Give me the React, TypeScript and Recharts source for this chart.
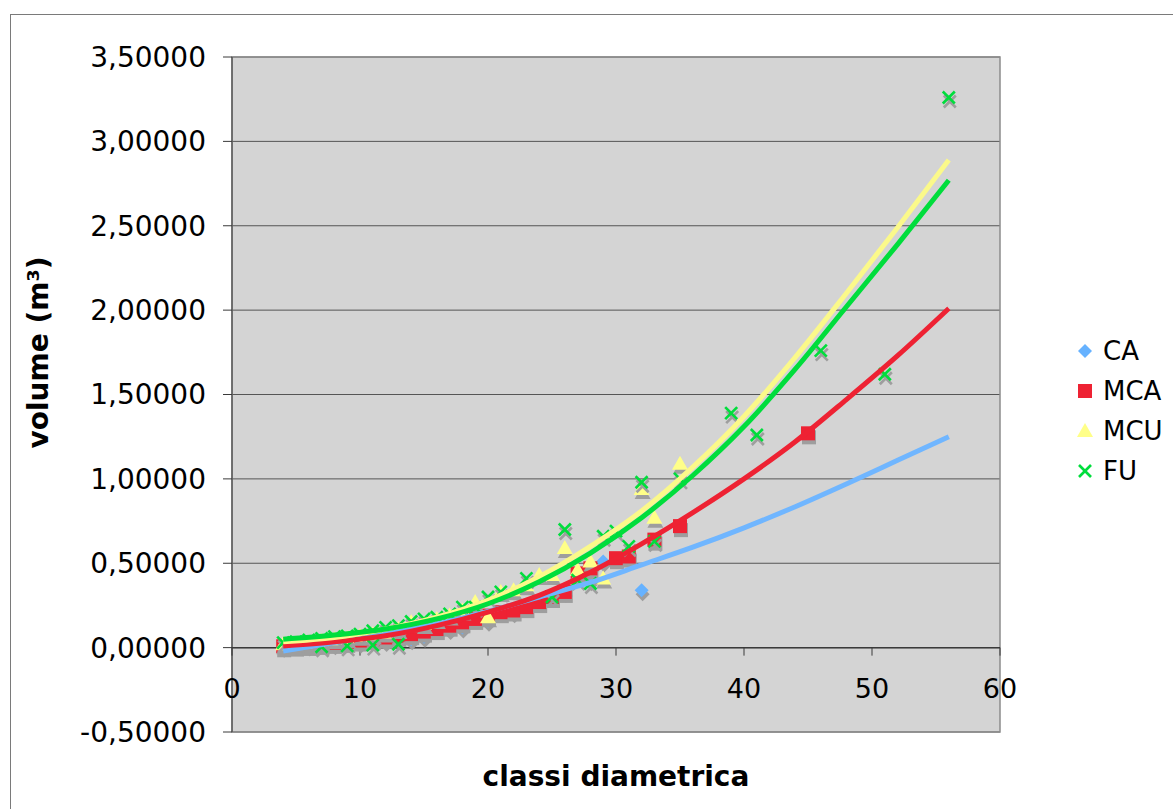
import React from 'react';
import {
  ComposedChart,
  Scatter,
  XAxis,
  YAxis,
  CartesianGrid,
  ReferenceLine,
  ReferenceDot,
  ReferenceArea,
  Legend,
} from 'recharts';

const FONT = '"DejaVu Sans", Verdana, sans-serif';

// Axis ticks
const xTicks = [0, 10, 20, 30, 40, 50, 60];
const yTicks = [-0.5, 0, 0.5, 1, 1.5, 2, 2.5, 3, 3.5];

// CA – observed volumes per diameter class
const caX = [4, 6, 8, 10, 12, 14, 15, 17, 18, 20, 22, 24, 26, 28, 29, 32];
const caY = [0.005, 0.012, 0.02, 0.03, 0.04, 0.05, 0.065, 0.11, 0.12, 0.16, 0.21, 0.27, 0.33, 0.4, 0.51, 0.34];

// MCA
const mcaX = [4, 5, 6, 7, 8, 9, 10, 11, 12, 13, 14, 15, 16, 17, 18, 19, 20, 21, 22, 23, 24, 25, 26, 27, 28, 30, 31, 33, 35, 45];
const mcaY = [0.008, 0.012, 0.016, 0.022, 0.028, 0.034, 0.042, 0.05, 0.06, 0.07, 0.08, 0.095, 0.11, 0.13, 0.15, 0.17, 0.19, 0.21, 0.22, 0.24, 0.27, 0.3, 0.33, 0.44, 0.47, 0.53, 0.54, 0.64, 0.72, 1.27];

// MCU
const mcuX = [4, 5, 6, 7, 8, 9, 10, 11, 12, 13, 14, 15, 16, 17, 18, 19, 20, 21, 22, 23, 24, 25, 26, 27, 28, 29, 32, 33, 35];
const mcuY = [0.02, 0.025, 0.03, 0.04, 0.05, 0.055, 0.07, 0.08, 0.09, 0.11, 0.15, 0.14, 0.17, 0.19, 0.22, 0.27, 0.18, 0.33, 0.34, 0.37, 0.43, 0.43, 0.59, 0.46, 0.51, 0.41, 0.94, 0.77, 1.09];

// FU
const fuX = [4, 5, 6, 7, 7, 8, 9, 9, 10, 11, 11, 12, 13, 13, 14, 15, 16, 17, 18, 19, 20, 21, 23, 25, 26, 27, 28, 29, 30, 31, 32, 33, 35, 39, 41, 46, 51, 56];
const fuY = [0.03, 0.035, 0.045, 0.055, 0.005, 0.065, 0.07, 0.01, 0.08, 0.1, 0.015, 0.12, 0.13, 0.02, 0.155, 0.17, 0.18, 0.2, 0.24, 0.24, 0.3, 0.33, 0.41, 0.3, 0.7, 0.4, 0.38, 0.66, 0.69, 0.6, 0.98, 0.63, 1.0, 1.39, 1.26, 1.76, 1.62, 3.26];

// Trend curves, sampled along the diameter range
const trendX = [4, 8, 12, 16, 20, 24, 28, 32, 36, 40, 44, 48, 52, 56];
const caTrend = [-0.02, 0.03, 0.08, 0.14, 0.215, 0.3, 0.386, 0.49, 0.595, 0.71, 0.835, 0.97, 1.11, 1.25];
const mcaTrend = [0.01, 0.035, 0.07, 0.13, 0.21, 0.31, 0.447, 0.615, 0.8, 1.0, 1.22, 1.47, 1.73, 2.01];
const mcuTrend = [0.035, 0.06, 0.11, 0.18, 0.28, 0.42, 0.6, 0.81, 1.07, 1.37, 1.72, 2.1, 2.49, 2.89];
const fuTrend = [0.05, 0.075, 0.11, 0.17, 0.26, 0.39, 0.56, 0.77, 1.02, 1.31, 1.65, 2.02, 2.39, 2.77];

type Kind = 'diamond' | 'square' | 'triangle' | 'cross';

const toPoints = (xs: number[], ys: number[]) => xs.map((x, i) => ({ x, y: ys[i] }));

const SERIES: { name: string; kind: Kind; color: string; line: string; pts: { x: number; y: number }[]; trend: { x: number; y: number }[] }[] = [
  { name: 'CA', kind: 'diamond', color: '#66b2ff', line: '#70b6ff', pts: toPoints(caX, caY), trend: toPoints(trendX, caTrend) },
  { name: 'MCA', kind: 'square', color: '#ee2233', line: '#ee2233', pts: toPoints(mcaX, mcaY), trend: toPoints(trendX, mcaTrend) },
  { name: 'MCU', kind: 'triangle', color: '#ffff88', line: '#fbf98a', pts: toPoints(mcuX, mcuY), trend: toPoints(trendX, mcuTrend) },
  { name: 'FU', kind: 'cross', color: '#00dd3c', line: '#00dd3c', pts: toPoints(fuX, fuY), trend: toPoints(trendX, fuTrend) },
];

const SHADOW = '#9e9e9e';

function glyph(kind: Kind, cx: number, cy: number, color: string, key?: string) {
  switch (kind) {
    case 'diamond':
      return <polygon key={key} points={`${cx},${cy - 7} ${cx + 7},${cy} ${cx},${cy + 7} ${cx - 7},${cy}`} fill={color} />;
    case 'square':
      return <rect key={key} x={cx - 7} y={cy - 7} width={14} height={14} fill={color} />;
    case 'triangle':
      return <polygon key={key} points={`${cx},${cy - 8} ${cx + 8},${cy + 6} ${cx - 8},${cy + 6}`} fill={color} />;
    default:
      return (
        <g key={key} stroke={color} strokeWidth={2.6}>
          <line x1={cx - 6} y1={cy - 6} x2={cx + 6} y2={cy + 6} />
          <line x1={cx - 6} y1={cy + 6} x2={cx + 6} y2={cy - 6} />
        </g>
      );
  }
}

const makeShape = (kind: Kind, color: string) => (props: any) => {
  const { cx, cy } = props;
  if (cx == null || cy == null) return <g />;
  return (
    <g>
      {glyph(kind, cx + 1, cy + 4, SHADOW, 's')}
      {glyph(kind, cx, cy, color, 'c')}
    </g>
  );
};

const fmt = (v: number) => v.toFixed(5).replace('.', ',');

const XTickMark = (label: string) => (props: any) => {
  const { cx, cy } = props;
  return (
    <g>
      <line x1={cx} y1={cy} x2={cx} y2={cy + 8} stroke="#3a3a3a" strokeWidth={1} />
      <text x={cx} y={cy + 41} textAnchor="middle" dominantBaseline="central" fontFamily={FONT} fontSize={27} fill="#000">
        {label}
      </text>
    </g>
  );
};

const YTitle = (props: any) => {
  const vb = props.viewBox || { x: 0, y: 0, width: 0, height: 0 };
  const cx = vb.x + 38;
  const cy = vb.y + vb.height / 2 - 42;
  return (
    <text
      x={cx}
      y={cy}
      transform={`rotate(-90 ${cx} ${cy})`}
      textAnchor="middle"
      dominantBaseline="central"
      fontFamily={FONT}
      fontWeight="bold"
      fontSize={28}
      fill="#000"
    >
      volume (m³)
    </text>
  );
};

const XTitle = (props: any) => {
  const vb = props.viewBox || { x: 0, y: 0, width: 0, height: 0 };
  return (
    <text x={vb.x + vb.width / 2} y={vb.y + 54} textAnchor="middle" fontFamily={FONT} fontWeight="bold" fontSize={28} fill="#000">
      classi diametrica
    </text>
  );
};

const LegendBox = () => (
  <div style={{ fontFamily: FONT, fontSize: 26, color: '#000' }}>
    {SERIES.map((s) => (
      <div key={s.name} style={{ height: 40, display: 'flex', alignItems: 'center' }}>
        <svg width={24} height={24} style={{ marginRight: 6 }}>
          {glyph(s.kind, 12, 12, s.color)}
        </svg>
        <span>{s.name}</span>
      </div>
    ))}
  </div>
);

export default function App() {
  return (
    <div style={{ position: 'absolute', left: 0, top: 0, width: 1173, height: 809, overflow: 'hidden', background: '#fff' }}>
      <div style={{ position: 'absolute', left: 10, top: 14, width: 1250, height: 900, border: '1px solid #7a7a7a' }} />
      <div style={{ position: 'absolute', left: 0, top: 0 }}>
        <ComposedChart width={1173} height={809} margin={{ top: 57, right: 74, bottom: 0, left: 0 }}>
          <CartesianGrid horizontal vertical={false} stroke="#555" fill="#d4d4d4" fillOpacity={1} />
          <ReferenceArea x1={0} x2={60} y1={-0.5} y2={3.5} fill="none" stroke="#8c8c8c" strokeWidth={1.5} />
          <XAxis
            type="number"
            dataKey="x"
            domain={[0, 60]}
            ticks={xTicks}
            height={77}
            tick={false}
            tickLine={false}
            axisLine={false}
            allowDataOverflow
            label={<XTitle />}
          />
          <YAxis
            type="number"
            dataKey="y"
            domain={[-0.5, 3.5]}
            ticks={yTicks}
            width={232}
            tickSize={9}
            tickMargin={17}
            tickFormatter={fmt}
            stroke="#3a3a3a"
            tick={{ fontFamily: FONT, fontSize: 28, fill: '#000' }}
            allowDataOverflow
            label={<YTitle />}
          />
          <ReferenceLine y={0} stroke="#3a3a3a" strokeWidth={1.5} />
          {xTicks.map((t) => (
            <ReferenceDot key={t} x={t} y={0} r={0} shape={XTickMark(String(t))} />
          ))}
          {SERIES.map((s) => (
            <Scatter
              key={s.name}
              name={s.name}
              data={s.pts}
              shape={makeShape(s.kind, s.color)}
              isAnimationActive={false}
            />
          ))}
          {SERIES.map((s) => (
            <Scatter
              key={s.name + '-trend'}
              data={s.trend}
              line={{ stroke: s.line, strokeWidth: 5 }}
              lineJointType="monotoneX"
              shape={() => <g />}
              legendType="none"
              isAnimationActive={false}
            />
          ))}
          <Legend
            layout="vertical"
            align="right"
            verticalAlign="top"
            wrapperStyle={{ left: 1073, top: 331, width: 99 }}
            content={<LegendBox />}
          />
        </ComposedChart>
      </div>
    </div>
  );
}
